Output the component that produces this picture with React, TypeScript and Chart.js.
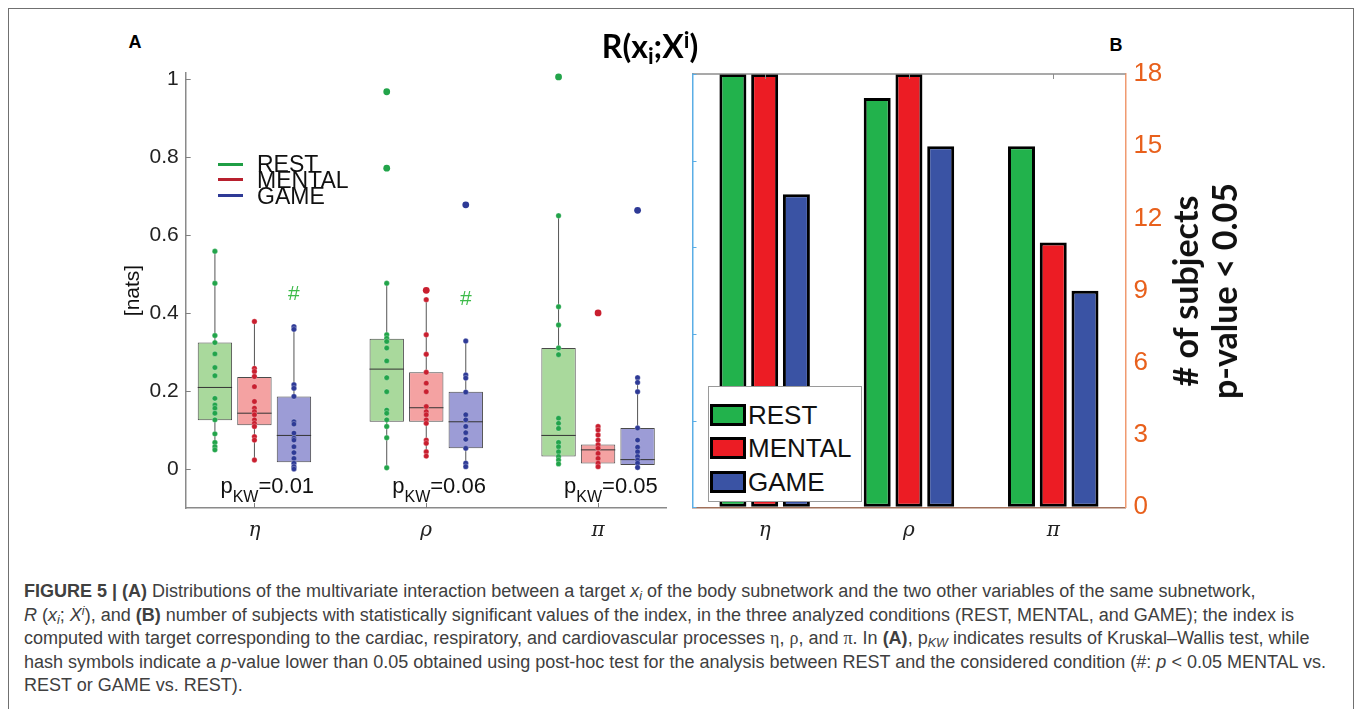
import React, { useEffect, useRef } from "react";
import { Chart, registerables } from "chart.js";
Chart.register(...registerables);

// ---------- data ----------
const categories = ["η", "ρ", "π"];
const conditions = ["REST", "MENTAL", "GAME"];
const pKW = ["0.01", "0.06", "0.05"];
const yTicksA = [0, 0.2, 0.4, 0.6, 0.8, 1];

// Panel A box statistics (per category η, ρ, π)
const restQ1 = [0.125, 0.121, 0.032];
const restMedian = [0.209, 0.256, 0.086];
const restQ3 = [0.324, 0.334, 0.31];
const restLow = [0.049, 0.003, 0.013];
const restHigh = [0.558, 0.476, 0.649];

const mentalQ1 = [0.112, 0.121, 0.014];
const mentalMedian = [0.143, 0.157, 0.049];
const mentalQ3 = [0.236, 0.248, 0.063];
const mentalLow = [0.023, 0.033, 0.006];
const mentalHigh = [0.378, 0.434, 0.109];

const gameQ1 = [0.017, 0.053, 0.01];
const gameMedian = [0.086, 0.121, 0.024];
const gameQ3 = [0.186, 0.198, 0.105];
const gameLow = [0.0, 0.006, 0.004];
const gameHigh = [0.365, 0.328, 0.234];

// Panel A subject values
const restPts = [
  [0.558, 0.476, 0.342, 0.324, 0.295, 0.26, 0.239, 0.181, 0.164, 0.156, 0.143, 0.126, 0.09, 0.068, 0.057, 0.049],
  [0.476, 0.344, 0.335, 0.327, 0.31, 0.277, 0.234, 0.198, 0.151, 0.143, 0.126, 0.109, 0.08, 0.003],
  [0.649, 0.416, 0.369, 0.31, 0.293, 0.13, 0.117, 0.104, 0.068, 0.057, 0.044, 0.032, 0.023, 0.013],
];
const restOut = [[], [0.967, 0.771], [1.005]];
const mentalPts = [
  [0.378, 0.258, 0.25, 0.237, 0.211, 0.173, 0.156, 0.147, 0.139, 0.126, 0.117, 0.109, 0.083, 0.074, 0.023],
  [0.434, 0.344, 0.294, 0.248, 0.22, 0.198, 0.16, 0.147, 0.139, 0.126, 0.117, 0.074, 0.066, 0.044, 0.033],
  [0.109, 0.1, 0.087, 0.074, 0.062, 0.053, 0.04, 0.027, 0.015, 0.006],
];
const mentalOut = [[], [0.458], [0.4]];
const gamePts = [
  [0.365, 0.358, 0.216, 0.207, 0.186, 0.121, 0.115, 0.092, 0.079, 0.074, 0.057, 0.042, 0.027, 0.015, 0.006, 0.0],
  [0.328, 0.241, 0.233, 0.197, 0.139, 0.126, 0.109, 0.093, 0.076, 0.053, 0.015, 0.006],
  [0.234, 0.222, 0.198, 0.105, 0.074, 0.056, 0.044, 0.032, 0.023, 0.015, 0.004],
];
const gameOut = [[], [0.677], [0.663]];
// post-hoc "#" marks above GAME (null = none)
const hashGame = [0.447, 0.435, null];
const pLabelY = -0.061;

// Panel B
const countTicks = [0, 3, 6, 9, 12, 15, 18];
const leftTicksB = [0, 0.2, 0.4, 0.6, 0.8, 1];
const restCount = [18, 17, 15];
const mentalCount = [18, 18, 11];
const gameCount = [13, 15, 9];

// ---------- styles ----------
const SANS = '"Liberation Sans", Arial, sans-serif';
const SERIF = '"DejaVu Serif", "Liberation Serif", serif';
const GROUP_OFFSET = [-0.23, 0, 0.23];
const BOX_HALF = 0.1;
const boxFill = ["#a9d99c", "#f4a2a2", "#9c9cd6"];
const dotColor = ["#22a44a", "#c91f2f", "#2e3a96"];
const legendLineColor = ["#1f9e45", "#b8202e", "#2e3a96"];
const barFill = ["#22b24c", "#ec1c24", "#3a53a4"];

const statsA = [
  { q1: restQ1, med: restMedian, q3: restQ3, lo: restLow, hi: restHigh, pts: restPts, out: restOut },
  { q1: mentalQ1, med: mentalMedian, q3: mentalQ3, lo: mentalLow, hi: mentalHigh, pts: mentalPts, out: mentalOut },
  { q1: gameQ1, med: gameMedian, q3: gameQ3, lo: gameLow, hi: gameHigh, pts: gamePts, out: gameOut },
];
const countsB = [restCount, mentalCount, gameCount];

const gx = (cat: number, cond: number) => cat + 1 + GROUP_OFFSET[cond];

const noOverhang = (s: any) => {
  s.paddingTop = 0; s.paddingBottom = 0; s.paddingLeft = 0; s.paddingRight = 0;
};

const annotA = {
  id: "annotA",
  afterDatasetsDraw(chart: any) {
    const { ctx, chartArea, scales } = chart;
    const x = scales.x, y = scales.y;
    ctx.save();
    ctx.strokeStyle = "#808080";
    ctx.lineWidth = 1;
    yTicksA.forEach((v) => {
      const py = Math.round(y.getPixelForValue(v)) + 0.5;
      ctx.beginPath(); ctx.moveTo(chartArea.left, py); ctx.lineTo(chartArea.left + 5, py); ctx.stroke();
    });
    categories.forEach((_, i) => {
      const px = Math.round(x.getPixelForValue(i + 1)) + 0.5;
      ctx.beginPath(); ctx.moveTo(px, chartArea.bottom); ctx.lineTo(px, chartArea.bottom - 5); ctx.stroke();
    });
    // p_KW labels
    ctx.fillStyle = "#111";
    ctx.textAlign = "left";
    ctx.textBaseline = "alphabetic";
    categories.forEach((_, i) => {
      let px = x.getPixelForValue(i + 1) - 34;
      const py = y.getPixelForValue(pLabelY);
      ctx.font = `22px ${SANS}`;
      ctx.fillText("p", px, py);
      px += ctx.measureText("p").width;
      ctx.font = `16px ${SANS}`;
      ctx.fillText("KW", px, py + 9);
      px += ctx.measureText("KW").width;
      ctx.font = `22px ${SANS}`;
      ctx.fillText("=" + pKW[i], px, py);
    });
    // hash marks
    ctx.fillStyle = "#3dbb4a";
    ctx.font = `21px ${SANS}`;
    ctx.textAlign = "center";
    ctx.textBaseline = "middle";
    hashGame.forEach((v, i) => {
      if (v == null) return;
      ctx.fillText("#", x.getPixelForValue(gx(i, 2)), y.getPixelForValue(v));
    });
    ctx.restore();
  },
};

const annotB = {
  id: "annotB",
  afterDatasetsDraw(chart: any) {
    const { ctx, chartArea, scales } = chart;
    const x = scales.x, yl = scales.yl;
    ctx.save();
    ctx.strokeStyle = "#8c8c8c";
    ctx.lineWidth = 1.5;
    ctx.beginPath(); ctx.moveTo(chartArea.left, chartArea.top); ctx.lineTo(chartArea.right, chartArea.top); ctx.stroke();
    ctx.lineWidth = 1;
    categories.forEach((_, i) => {
      const px = Math.round(x.getPixelForValue(i)) + 0.5;
      ctx.beginPath(); ctx.moveTo(px, chartArea.top); ctx.lineTo(px, chartArea.top + 5); ctx.stroke();
    });
    ctx.strokeStyle = "#5aaee6";
    leftTicksB.forEach((v) => {
      const py = Math.round(yl.getPixelForValue(v)) + 0.5;
      ctx.beginPath(); ctx.moveTo(chartArea.left, py); ctx.lineTo(chartArea.left + 4, py); ctx.stroke();
    });
    ctx.restore();
  },
};

export default function App() {
  const refA = useRef<HTMLCanvasElement>(null);
  const refB = useRef<HTMLCanvasElement>(null);

  useEffect(() => {
    const datasets: any[] = [];
    statsA.forEach((s, c) => {
      const whisk: any[] = [];
      const med: any[] = [];
      const pts: any[] = [];
      const outs: any[] = [];
      categories.forEach((_, i) => {
        const xc = gx(i, c);
        whisk.push({ x: xc, y: s.lo[i] }, { x: xc, y: s.hi[i] }, { x: xc, y: null });
        med.push({ x: xc - BOX_HALF, y: s.med[i] }, { x: xc + BOX_HALF, y: s.med[i] }, { x: xc, y: null });
        s.pts[i].forEach((v) => pts.push({ x: xc, y: v }));
        s.out[i].forEach((v) => outs.push({ x: xc, y: v }));
      });
      datasets.push({
        type: "line", label: conditions[c] + " whisker", data: whisk, borderColor: "#555", borderWidth: 1,
        pointRadius: 0, spanGaps: false, order: 5,
      });
      datasets.push({
        type: "bar", label: conditions[c], data: categories.map((_, i) => ({ x: gx(i, c), y: [s.q1[i], s.q3[i]] })),
        backgroundColor: boxFill[c], borderColor: "#4a4a4a", borderWidth: 1, borderSkipped: false,
        grouped: false, categoryPercentage: 1, barPercentage: 0.87, order: 4,
      });
      datasets.push({
        type: "line", label: conditions[c] + " median", data: med, borderColor: "#333", borderWidth: 1,
        pointRadius: 0, spanGaps: false, order: 3,
      });
      datasets.push({
        type: "scatter", label: conditions[c] + " subjects", data: pts, backgroundColor: dotColor[c],
        borderColor: "rgba(255,255,255,0.45)", borderWidth: 0.6, pointRadius: 2.7, order: 2,
      });
      datasets.push({
        type: "scatter", label: conditions[c] + " outliers", data: outs, backgroundColor: dotColor[c],
        borderWidth: 0, pointRadius: 3.4, order: 1,
      });
    });

    const chartA = new Chart(refA.current!, {
      type: "bar",
      data: { datasets },
      options: {
        animation: false,
        responsive: false,
        devicePixelRatio: 1,
        events: [],
        layout: { padding: { left: 0, right: 13.2, top: 13, bottom: 0 } },
        plugins: { legend: { display: false }, tooltip: { enabled: false } },
        scales: {
          x: {
            type: "linear", min: 0.6, max: 3.4, offset: false,
            afterBuildTicks: (s: any) => { s.ticks = categories.map((_, i) => ({ value: i + 1 })); },
            afterFit: (s: any) => { s.height = 42; noOverhang(s); },
            ticks: {
              callback: (v: any) => categories[Math.round(v) - 1] ?? "",
              font: { family: SERIF, style: "italic", size: 20 }, color: "#222", padding: 11,
              maxRotation: 0, autoSkip: false,
            },
            grid: { drawOnChartArea: false, drawTicks: false, offset: false },
            border: { color: "#8a8a8a", width: 1.5 },
          },
          y: {
            type: "linear", min: -0.1, max: 1.015,
            afterBuildTicks: (s: any) => { s.ticks = yTicksA.map((v) => ({ value: v })); },
            afterFit: (s: any) => { s.width = 85.7; noOverhang(s); },
            ticks: { callback: (v: any) => String(v), font: { family: SANS, size: 21 }, color: "#222", padding: 7 },
            grid: { drawOnChartArea: false, drawTicks: false },
            border: { color: "#8a8a8a", width: 1.5 },
            title: { display: true, text: "[nats]", font: { family: SANS, size: 21 }, color: "#111", padding: { top: 21, bottom: 0 } },
          },
        },
      } as any,
      plugins: [annotA],
    });

    const chartB = new Chart(refB.current!, {
      type: "bar",
      data: {
        labels: categories,
        datasets: conditions.map((c, k) => ({
          label: c, data: countsB[k], backgroundColor: barFill[k], borderColor: "#000", borderWidth: 3,
          borderSkipped: false, categoryPercentage: 0.66, barPercentage: 0.85, yAxisID: "y",
        })),
      },
      options: {
        animation: false,
        responsive: false,
        devicePixelRatio: 1,
        events: [],
        layout: { padding: { left: 12.5, right: 54.6, top: 14, bottom: 0 } },
        plugins: { legend: { display: false }, tooltip: { enabled: false } },
        scales: {
          x: {
            afterFit: (s: any) => { s.height = 42.7; noOverhang(s); },
            ticks: { font: { family: SERIF, style: "italic", size: 20 }, color: "#222", padding: 11 },
            grid: { drawOnChartArea: false, drawTicks: false },
            border: { color: "#a0705a", width: 1.5 },
          },
          y: {
            position: "right", min: 0, max: 18,
            afterBuildTicks: (s: any) => { s.ticks = countTicks.map((v) => ({ value: v })); },
            afterFit: (s: any) => { s.width = 60; noOverhang(s); },
            ticks: { font: { family: SANS, size: 26 }, color: "#e8601c", padding: 8 },
            grid: { drawOnChartArea: false, drawTicks: false },
            border: { color: "#f09a70", width: 1.5 },
          },
          yl: {
            position: "left", min: 0, max: 1,
            afterFit: (s: any) => { s.width = 0; noOverhang(s); },
            ticks: { display: false },
            grid: { drawOnChartArea: false, drawTicks: false },
            border: { color: "#5aaee6", width: 1.5 },
          },
        },
      } as any,
      plugins: [annotB],
    });

    return () => { chartA.destroy(); chartB.destroy(); };
  }, []);

  const abs = (s: React.CSSProperties): React.CSSProperties => ({ position: "absolute", ...s });
  const sub: React.CSSProperties = { fontSize: "0.7em", verticalAlign: "-0.25em", lineHeight: 0 };
  const sup: React.CSSProperties = { fontSize: "0.7em", verticalAlign: "0.45em", lineHeight: 0 };
  const capLine: React.CSSProperties = { height: 23.5, lineHeight: "23.5px", whiteSpace: "nowrap" };
  const greek: React.CSSProperties = { fontFamily: '"Liberation Serif", serif' };

  return (
    <div style={abs({ left: 0, top: 0, width: 1357, height: 709, overflow: "hidden", background: "#fff", fontFamily: SANS })}>
      <div style={abs({ left: 8, top: 8, width: 1344, height: 730, border: "1px solid #707070" })} />

      <canvas ref={refA} width={580} height={490} style={abs({ left: 100, top: 60, width: 580, height: 490 })} />
      <canvas ref={refB} width={560} height={490} style={abs({ left: 680, top: 60, width: 560, height: 490 })} />

      {/* panel labels and title */}
      <div style={abs({ left: 135, top: 42, transform: "translate(-50%,-50%)", fontWeight: 700, fontSize: 18, lineHeight: 1 })}>A</div>
      <div style={abs({ left: 1116, top: 45, transform: "translate(-50%,-50%)", fontWeight: 700, fontSize: 18, lineHeight: 1 })}>B</div>
      <div style={abs({ left: 650, top: 46, transform: "translate(-50%,-50%)", fontFamily: "Lato, sans-serif", fontWeight: 700, fontSize: 32, lineHeight: 1, whiteSpace: "nowrap" })}>
        R(x<span style={sub}>i</span>;X<span style={sup}>i</span>)
      </div>

      {/* panel A legend */}
      {conditions.map((c, k) => (
        <React.Fragment key={c}>
          <div style={abs({ left: 218, top: 164 + k * 15.9 - 1.5, width: 25, height: 3, background: legendLineColor[k] })} />
          <div style={abs({ left: 257, top: 164 + k * 15.9, transform: "translateY(-50%)", fontSize: 23, lineHeight: 1, color: "#111" })}>{c}</div>
        </React.Fragment>
      ))}

      {/* panel B legend */}
      <div style={abs({ left: 707.5, top: 385.7, width: 152, height: 114, border: "1px solid #9a9a9a", background: "#fff" })} />
      {conditions.map((c, k) => (
        <React.Fragment key={c + "b"}>
          <div style={abs({ left: 709.5, top: 415 + k * 33.3 - 11, width: 30, height: 16, border: "3px solid #000", background: barFill[k] })} />
          <div style={abs({ left: 748, top: 415 + k * 33.3, transform: "translateY(-50%)", fontSize: 26, lineHeight: 1, color: "#111" })}>{c}</div>
        </React.Fragment>
      ))}

      {/* panel B axis title */}
      <div style={abs({ left: 1204, top: 291, transform: "translate(-50%,-50%) rotate(-90deg)", fontFamily: "Lato, sans-serif", fontWeight: 700, fontSize: 34, lineHeight: "39px", textAlign: "center", whiteSpace: "nowrap", color: "#111" })}>
        <div># of subjects</div>
        <div>p-value &lt; 0.05</div>
      </div>

      {/* caption */}
      <div style={abs({ left: 24, top: 580, fontSize: 18, color: "#404040" })}>
        <div style={capLine}>
          <b>FIGURE 5 | (A)</b> Distributions of the multivariate interaction between a target <i>x<span style={sub}>i</span></i> of the body subnetwork and the two other variables of the same subnetwork,
        </div>
        <div style={capLine}>
          <i>R</i> (<i>x<span style={sub}>i</span></i>; <i>X<span style={sup}>i</span></i>), and <b>(B)</b> number of subjects with statistically significant values of the index, in the three analyzed conditions (REST, MENTAL, and GAME); the index is
        </div>
        <div style={capLine}>
          computed with target corresponding to the cardiac, respiratory, and cardiovascular processes <span style={greek}>η</span>, <span style={greek}>ρ</span>, and <span style={greek}>π</span>. In <b>(A)</b>, p<span style={sub}><i>KW</i></span> indicates results of Kruskal–Wallis test, while
        </div>
        <div style={capLine}>
          hash symbols indicate a <i>p</i>-value lower than 0.05 obtained using post-hoc test for the analysis between REST and the considered condition (#: <i>p</i> &lt; 0.05 MENTAL vs.
        </div>
        <div style={capLine}>REST or GAME vs. REST).</div>
      </div>
    </div>
  );
}
